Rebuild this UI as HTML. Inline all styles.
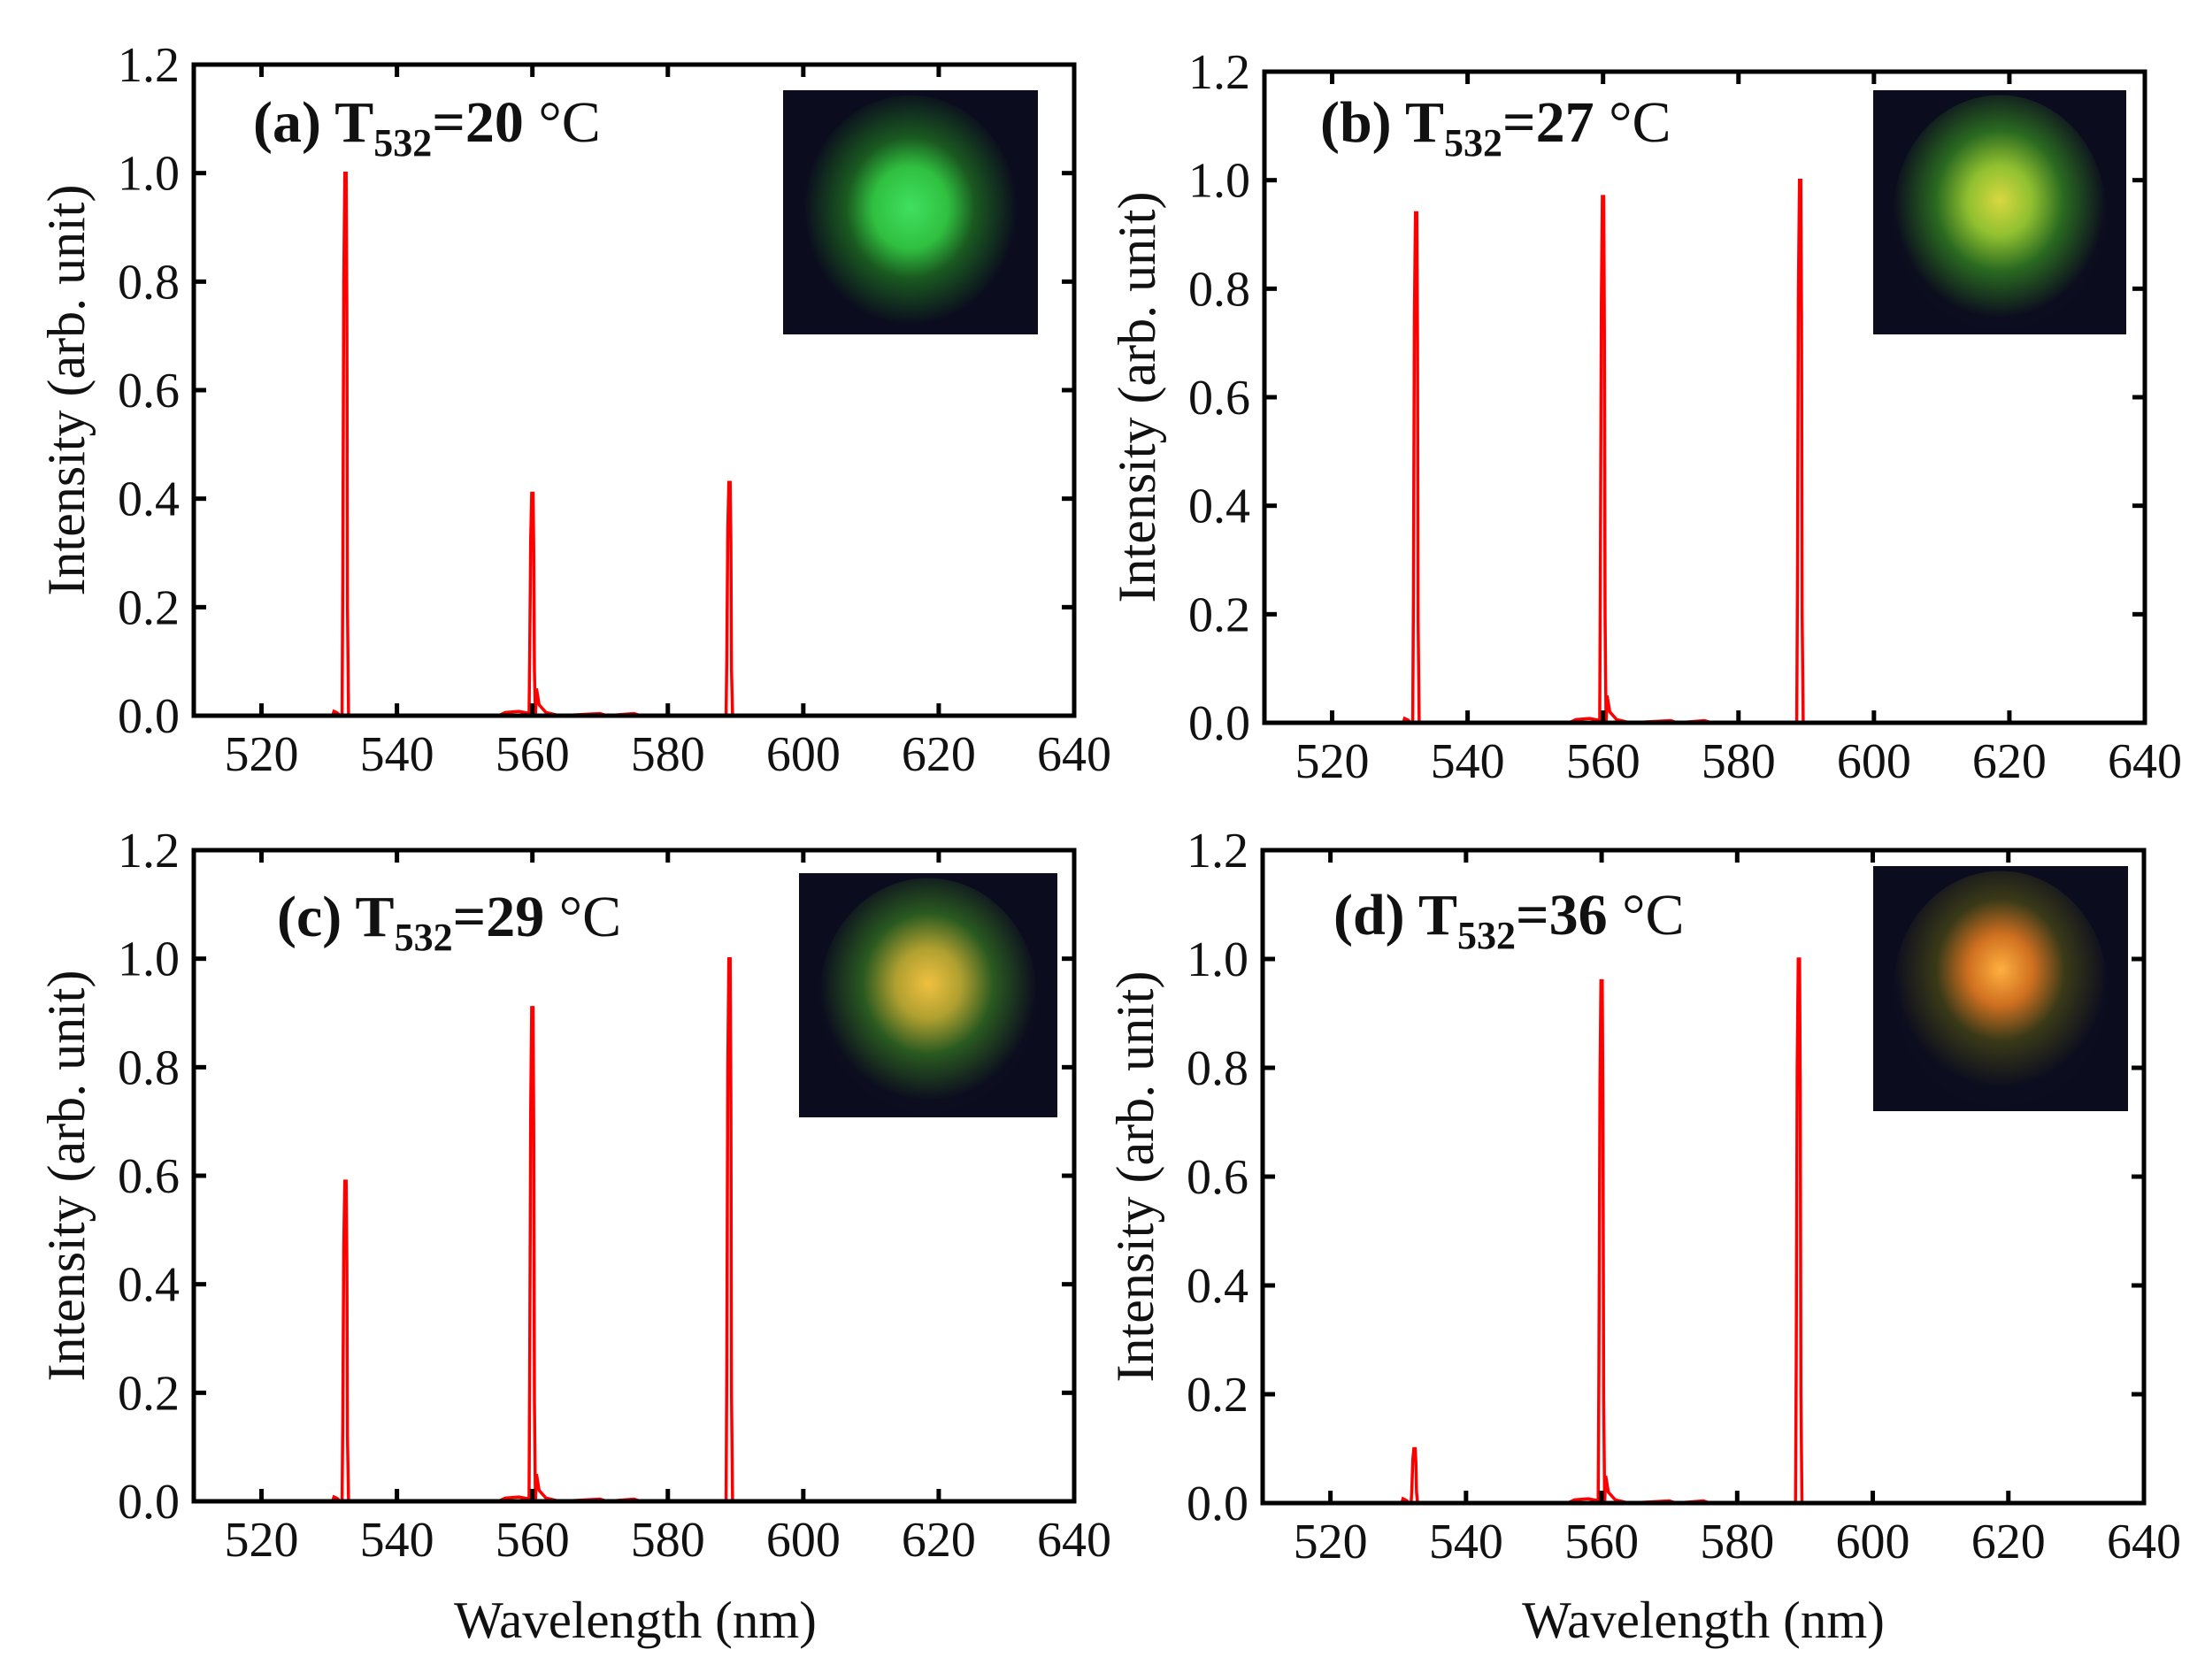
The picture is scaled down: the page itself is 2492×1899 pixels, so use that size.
<!DOCTYPE html>
<html><head><meta charset="utf-8">
<style>
html,body{margin:0;padding:0;background:#fff;}
svg{display:block;}
text{font-family:"Liberation Serif",serif;fill:#111;}
</style></head>
<body>
<svg id="s" width="2492" height="1899" viewBox="0 0 2492 1899" xmlns="http://www.w3.org/2000/svg">
<defs>
<radialGradient id="ga" cx="0.5" cy="0.48" r="0.5">
<stop offset="0" stop-color="#40e060"/><stop offset="0.35" stop-color="#30c040"/><stop offset="0.6" stop-color="#1a5a20"/><stop offset="1" stop-color="#0b0c1e"/></radialGradient>
<radialGradient id="gb" cx="0.5" cy="0.45" r="0.5">
<stop offset="0" stop-color="#d8d840"/><stop offset="0.3" stop-color="#90c030"/><stop offset="0.6" stop-color="#2a6a20"/><stop offset="1" stop-color="#0c0d1e"/></radialGradient>
<radialGradient id="gc" cx="0.5" cy="0.45" r="0.5">
<stop offset="0" stop-color="#f0c040"/><stop offset="0.3" stop-color="#b0a030"/><stop offset="0.6" stop-color="#2a5a20"/><stop offset="1" stop-color="#0c0d1e"/></radialGradient>
<radialGradient id="gd" cx="0.5" cy="0.42" r="0.5">
<stop offset="0" stop-color="#ffb040"/><stop offset="0.3" stop-color="#d07020"/><stop offset="0.6" stop-color="#3a3a18"/><stop offset="1" stop-color="#0c0d1e"/></radialGradient>
</defs>
<g id="g"></g>
</svg>
<script>
var panels=[
 {L:219,R:1214,T:73,B:809,lab:"a",t:"20",tx:286,ty:160,ins:[885,102,288,276,"ga"],pk:[1.0,0.41,0.43]},
 {L:1429,R:2424,T:81,B:817,lab:"b",t:"27",tx:1492,ty:160,ins:[2117,102,286,276,"gb"],pk:[0.94,0.97,1.0]},
 {L:219,R:1214,T:961,B:1697,lab:"c",t:"29",tx:313,ty:1058,ins:[903,987,292,276,"gc"],pk:[0.59,0.91,1.0]},
 {L:1427,R:2423,T:961,B:1699,lab:"d",t:"36",tx:1507,ty:1056,ins:[2117,979,288,277,"gd"],pk:[0.10,0.96,1.0]}
];
var h="";
panels.forEach(function(p){
 var X=function(v){return p.L+(v-510)/130*(p.R-p.L);};
 var Y=function(v){return p.B-v/1.2*(p.B-p.T);};
 var I=p.ins;
 h+='<rect x="'+I[0]+'" y="'+I[1]+'" width="'+I[2]+'" height="'+I[3]+'" fill="#0b0c1e"/>';
 h+='<ellipse cx="'+(I[0]+I[2]/2)+'" cy="'+(I[1]+I[3]*0.5)+'" rx="'+(I[2]*0.42)+'" ry="'+(I[3]*0.48)+'" fill="url(#'+I[4]+')"/>';
 var pts=[[510,0],[530.5,0],[530.7,0.008],[531.2,0.005],[531.6,0]];
 function peak(x0,a){pts.push([x0-0.5,0],[x0-0.4,0.25*a],[x0-0.25,0.8*a],[x0-0.1,a],[x0+0.1,a],[x0+0.2,0.75*a],[x0+0.3,0.2*a],[x0+0.45,0]);}
 peak(532.4,p.pk[0]);
 pts.push([555,0],[556,0.006],[558,0.008],[559.3,0.005]);
 peak(560,p.pk[1]);
 pts.push([560.6,0.05],[561,0.02],[562,0.006],[564,0],[570,0.004],[571,0],[575,0.004],[576,0],[588.4,0]);
 peak(589.1,p.pk[2]);
 pts.push([600,0]);
 h+='<polyline fill="none" stroke="#ff0000" stroke-width="3.5" points="'+pts.map(function(q){return X(q[0]).toFixed(1)+','+Y(q[1]).toFixed(1);}).join(' ')+'"/>';
 h+='<rect x="'+p.L+'" y="'+p.T+'" width="'+(p.R-p.L)+'" height="'+(p.B-p.T)+'" fill="none" stroke="#000" stroke-width="5"/>';
 for(var v=520;v<=640;v+=20){var x=X(v);
  if(v<640){h+='<line x1="'+x+'" y1="'+p.B+'" x2="'+x+'" y2="'+(p.B-14)+'" stroke="#000" stroke-width="5"/>';
  h+='<line x1="'+x+'" y1="'+p.T+'" x2="'+x+'" y2="'+(p.T+14)+'" stroke="#000" stroke-width="5"/>';}
  h+='<text x="'+x+'" y="'+(p.B+62)+'" font-size="56" text-anchor="middle">'+v+'</text>';}
 for(var k=0;k<=6;k++){var y=Y(k*0.2);
  if(k>0&&k<6){h+='<line x1="'+p.L+'" y1="'+y+'" x2="'+(p.L+14)+'" y2="'+y+'" stroke="#000" stroke-width="5"/>';
  h+='<line x1="'+p.R+'" y1="'+y+'" x2="'+(p.R-14)+'" y2="'+y+'" stroke="#000" stroke-width="5"/>';}
  h+='<text x="'+(p.L-16)+'" y="'+(y+19)+'" font-size="56" text-anchor="end">'+(k*0.2).toFixed(1)+'</text>';}
 var cy=(p.T+p.B)/2;
 h+='<text transform="translate('+(p.L-124)+','+cy+') rotate(-90)" font-size="60" text-anchor="middle">Intensity (arb. unit)</text>';
 h+='<text x="'+p.tx+'" y="'+p.ty+'" font-size="66" font-weight="bold">('+p.lab+') T<tspan font-size="44" dy="16">532</tspan><tspan dy="-16">='+p.t+'</tspan><tspan font-weight="normal"> °C</tspan></text>';
});
h+='<text x="718" y="1851" font-size="59" text-anchor="middle">Wavelength (nm)</text>';
h+='<text x="1925" y="1851" font-size="59" text-anchor="middle">Wavelength (nm)</text>';
document.getElementById("g").innerHTML=h;
</script>
</body></html>
